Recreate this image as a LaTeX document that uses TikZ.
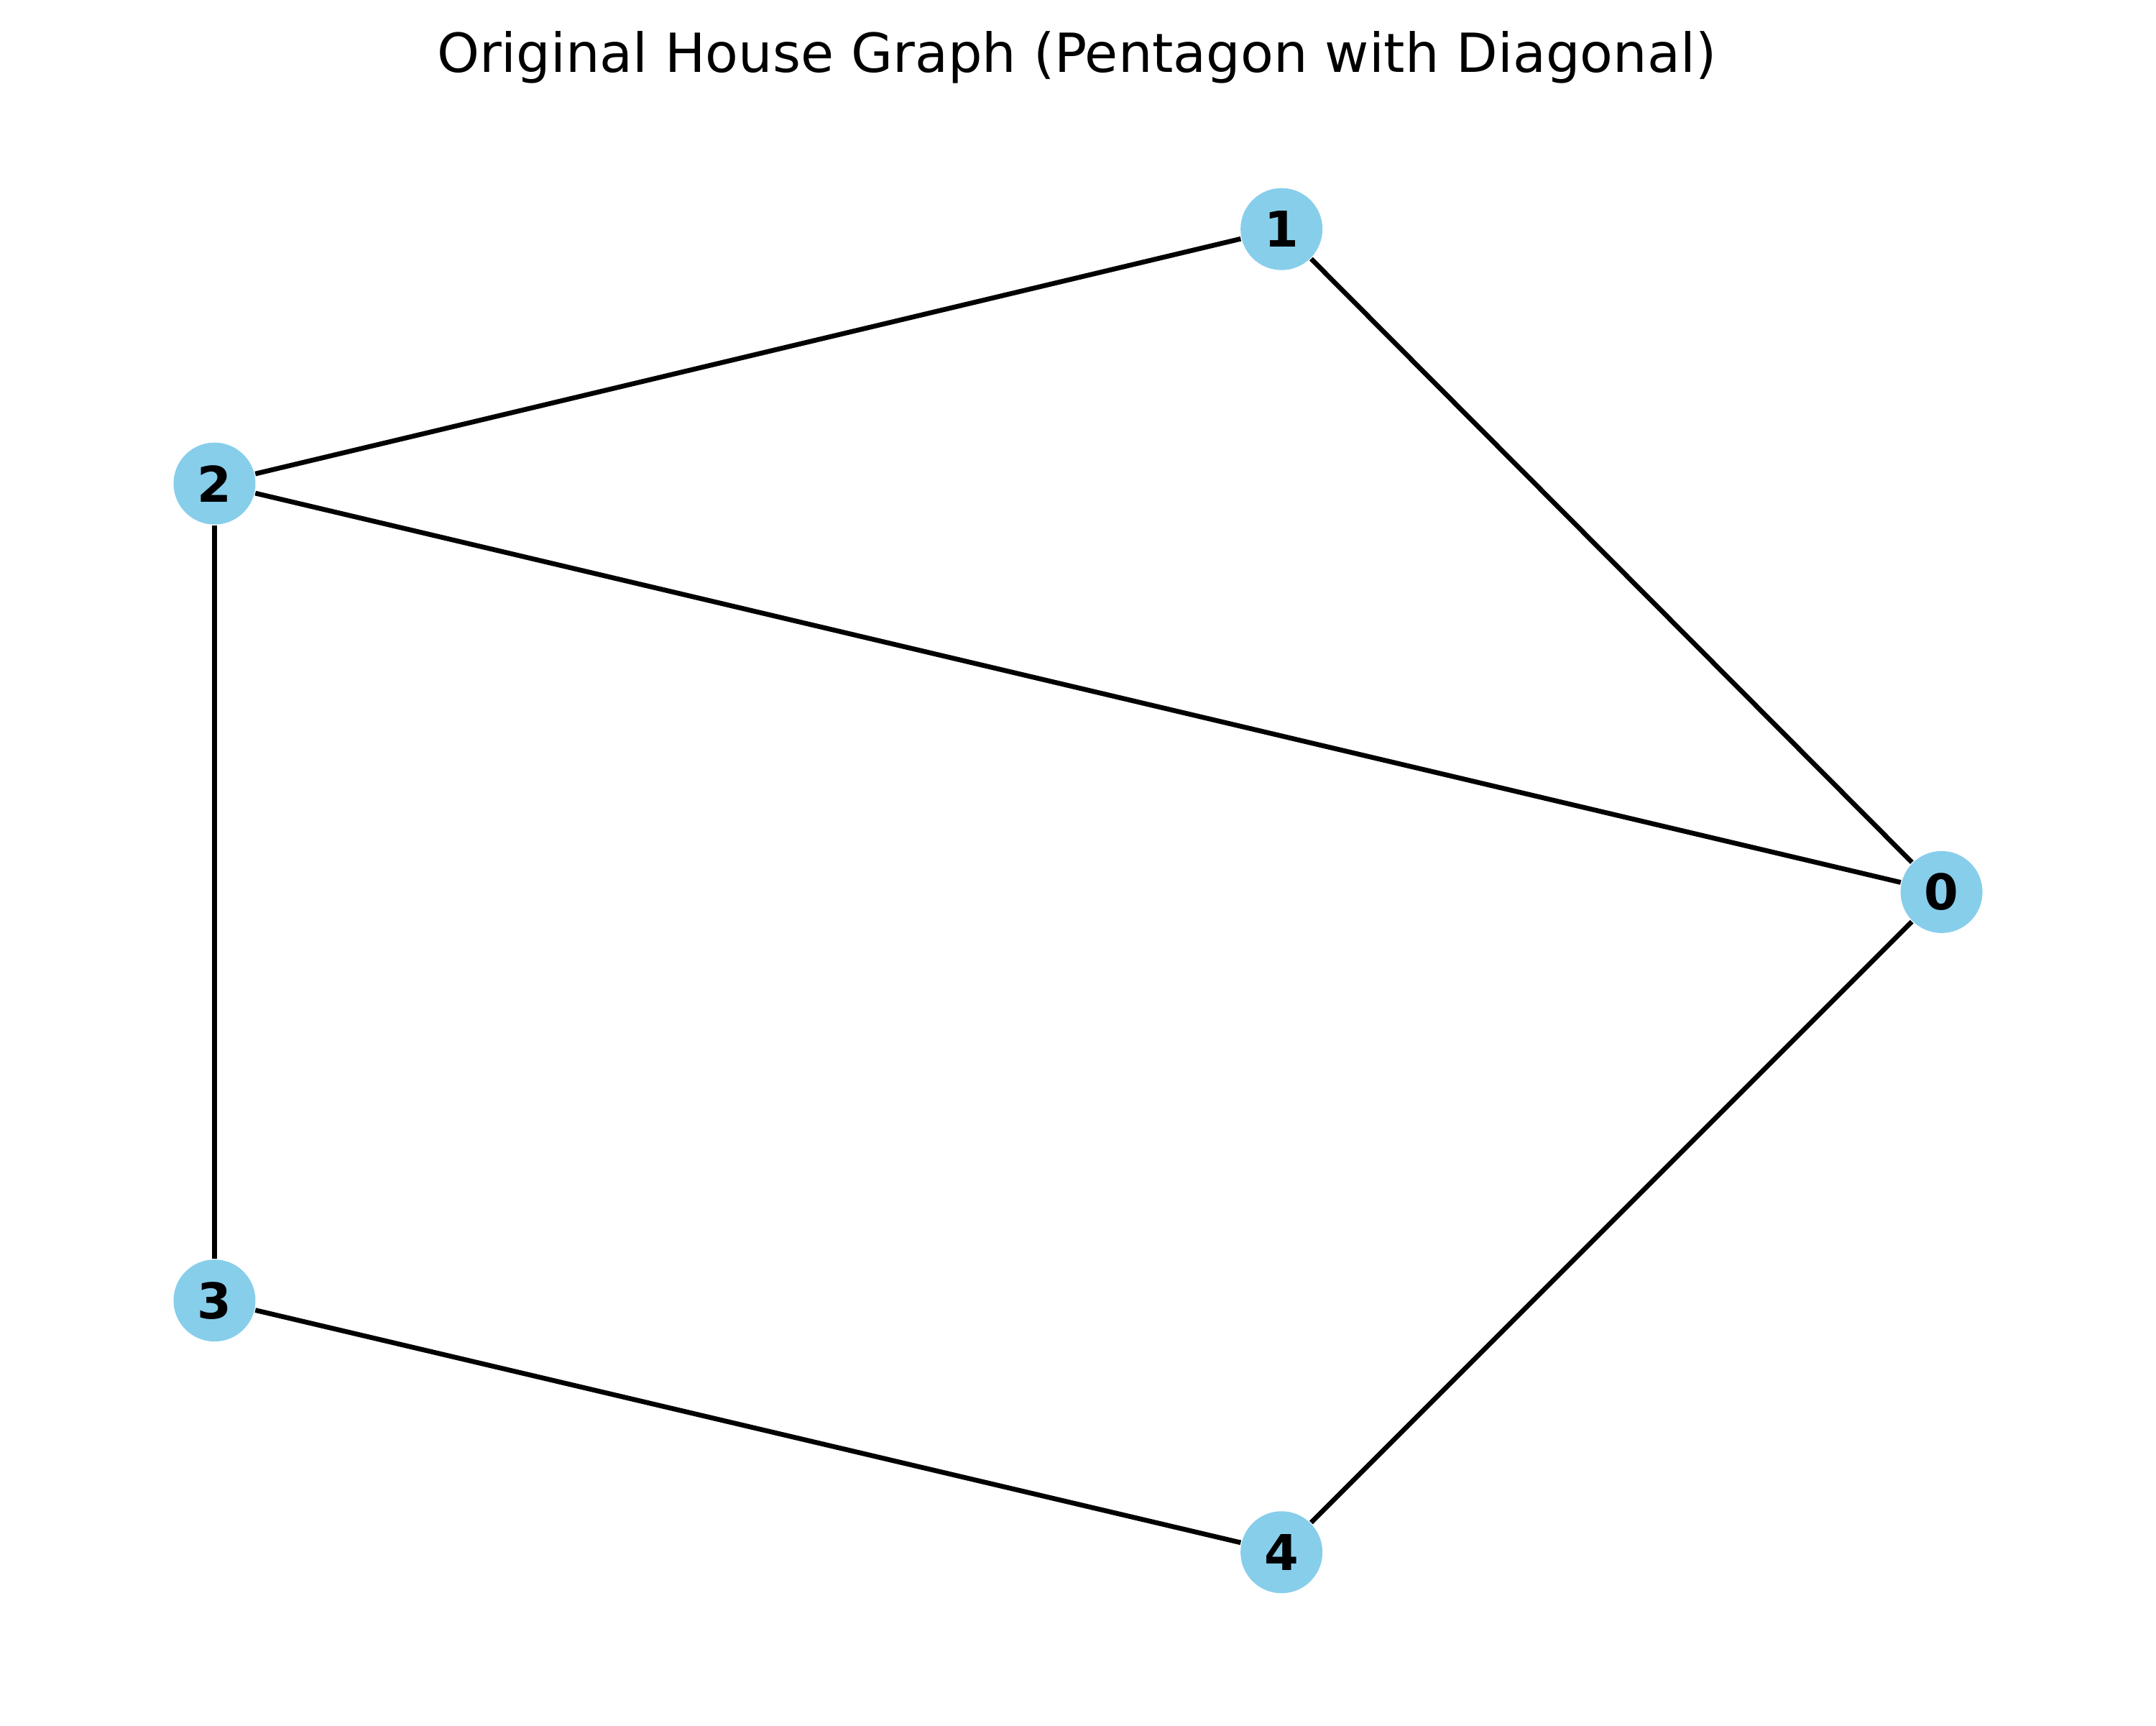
\documentclass[tikz,border=0pt]{standalone}
\usepackage{fontspec}
\setmainfont{DejaVu Sans}
\definecolor{skyblue}{HTML}{87CEEB}
\begin{document}
\begin{tikzpicture}

        \useasboundingbox (0,0) rectangle (15.68,12.546);

        \node (title) at (7.83,12.02) [anchor=base] {\fontsize{11.15}{13}\selectfont Original House Graph (Pentagon with Diagonal)};

        \begin{scope}[every node/.style={circle, fill=skyblue, inner sep=0pt, minimum size=0.596cm, font=\fontsize{10.2}{12}\selectfont\bfseries}]
          \node (0) at (14.12,6.06)  {0};
          \node (1) at (9.32,10.88)  {1};
          \node (2) at (1.56,9.03)   {2};
          \node (3) at (1.56,3.09)   {3};
          \node (4) at (9.32,1.26)   {4};
        \end{scope}

        \begin{scope}[every edge/.style={draw, line width=1pt}]
          \path (0) edge (1);
          \path (1) edge (2);
          \path (2) edge (3);
          \path (3) edge (4);
          \path (4) edge (0);
          \path (2) edge (0);
        \end{scope}

      \end{tikzpicture}
\end{document}
